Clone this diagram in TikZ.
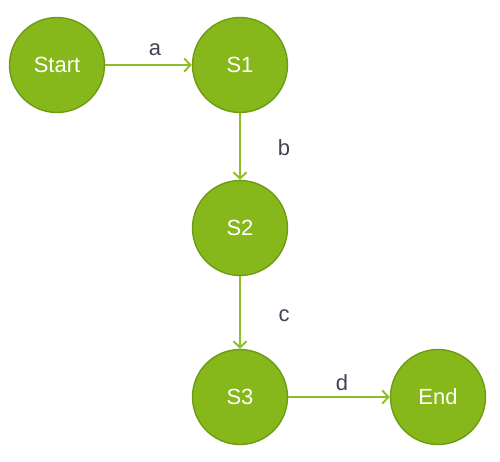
\documentclass[tikz,border=0pt]{standalone}
\usepackage{fontspec}
\setmainfont{Liberation Sans}
\usetikzlibrary{arrows.meta}
\definecolor{stategreen}{HTML}{86B81B}
\definecolor{stateborder}{HTML}{6F9A14}
\definecolor{edgegreen}{HTML}{8CBF26}
\definecolor{labelgray}{HTML}{3F4452}
\tikzset{
  state/.style={circle, fill=stategreen, draw=stateborder, line width=0.8pt,
    minimum size=1.9cm, inner sep=0pt, text=white, font=\fontsize{12.5}{14}\selectfont},
  trans/.style={draw=edgegreen, line width=1.1pt, -{Straight Barb[length=3.6pt,width=7.5pt]}},
  lbl/.style={text=labelgray, font=\fontsize{12.5}{14}\selectfont}
}
\begin{document}
\begin{tikzpicture}[x=0.02cm, y=-0.02cm]
\useasboundingbox (0,0) rectangle (500,461);
\node[state] (start) at (57,65) {Start};
\node[state] (s1) at (240,65) {S1};
\node[state] (s2) at (240,228) {S2};
\node[state] (s3) at (240,397) {S3};
\node[state] (end) at (438,397) {End};
\draw[trans] (start) -- (s1);
\draw[trans] (s1) -- (s2);
\draw[trans] (s2) -- (s3);
\draw[trans] (s3) -- (end);
\node[lbl] (la) at (155,50) {a};
\node[lbl] (lb) at (284,148) {b};
\node[lbl] (lc) at (284,316) {c};
\node[lbl] (ld) at (342,383) {d};
\end{tikzpicture}
\end{document}
